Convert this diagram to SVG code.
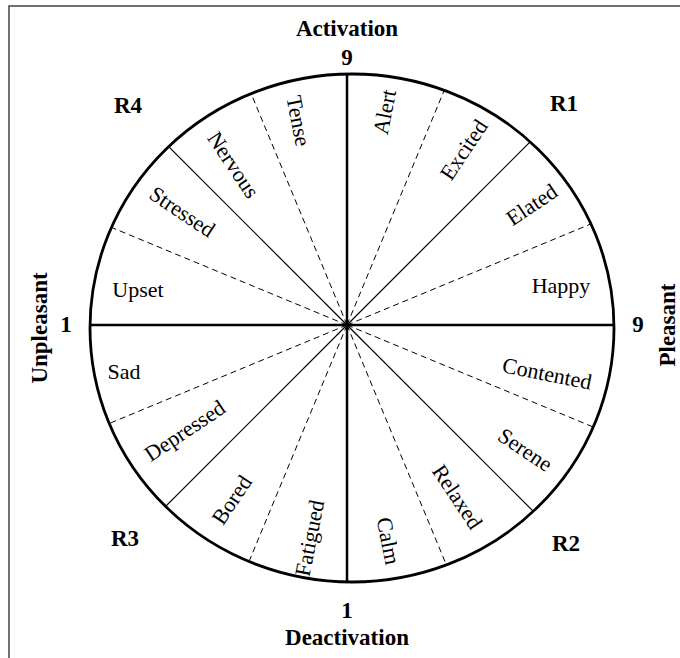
<svg xmlns="http://www.w3.org/2000/svg" width="680" height="658" viewBox="0 0 680 658">
<style>
.lbl{font-family:"Liberation Serif","Times New Roman",serif;font-size:22px;fill:#000;text-anchor:middle}
.bold{font-family:"Liberation Serif","Times New Roman",serif;font-size:23px;font-weight:bold;fill:#000;text-anchor:middle}
.axis{stroke:#000;stroke-width:2.5;fill:none}
.solid{stroke:#000;stroke-width:1.2;fill:none}
.dash{stroke:#000;stroke-width:1;stroke-dasharray:6 4;fill:none}
</style>
<defs>
<clipPath id="clip"><ellipse cx="352" cy="328" rx="262" ry="254"/></clipPath>
</defs>
<rect x="0" y="0" width="680" height="658" fill="#fff"/>
<rect id="frame" x="9" y="6" width="700" height="700" fill="none" stroke="#444" stroke-width="1.5"/>
<g id="connectors" clip-path="url(#clip)">
<line class="dash" x1="347" y1="325" x2="716.6" y2="171.9"/>
<line class="dash" x1="347" y1="325" x2="500.1" y2="-44.6"/>
<line class="dash" x1="347" y1="325" x2="193.9" y2="-44.6"/>
<line class="dash" x1="347" y1="325" x2="-22.6" y2="171.9"/>
<line class="dash" x1="347" y1="325" x2="-22.6" y2="478.1"/>
<line class="dash" x1="347" y1="325" x2="193.9" y2="694.6"/>
<line class="dash" x1="347" y1="325" x2="500.1" y2="694.6"/>
<line class="dash" x1="347" y1="325" x2="716.6" y2="478.1"/>
<line class="solid" x1="347" y1="325" x2="629.8" y2="42.2"/>
<line class="solid" x1="347" y1="325" x2="64.2" y2="42.2"/>
<line class="solid" x1="347" y1="325" x2="64.2" y2="607.8"/>
<line class="solid" x1="347" y1="325" x2="629.8" y2="607.8"/>
<line class="axis" x1="60" y1="325" x2="640" y2="325"/>
<line class="axis" x1="347" y1="40" x2="347" y2="610"/>
</g>
<g id="circle"><ellipse cx="352" cy="328" rx="262" ry="254" fill="none" stroke="#000" stroke-width="2.8"/></g>
<g id="axis-labels">
<text class="bold" x="347" y="36">Activation</text>
<text class="bold" x="347" y="65">9</text>
<text class="bold" x="347" y="618">1</text>
<text class="bold" x="347" y="645">Deactivation</text>
<text class="bold" x="66" y="332">1</text>
<text class="bold" x="638" y="332">9</text>
<text class="bold" transform="translate(47,328) rotate(-90)">Unpleasant</text>
<text class="bold" transform="translate(675,325) rotate(-90)">Pleasant</text>
</g>
<g id="regions">
<text class="bold" x="128" y="113">R4</text>
<text class="bold" x="564" y="111">R1</text>
<text class="bold" x="125" y="546">R3</text>
<text class="bold" x="566" y="551">R2</text>
</g>
<g id="n-alert"><text class="lbl" transform="translate(385,112) rotate(-78.75)" y="7">Alert</text></g>
<g id="n-excited"><text class="lbl" transform="translate(464,150) rotate(-56.25)" y="7">Excited</text></g>
<g id="n-elated"><text class="lbl" transform="translate(532,205) rotate(-33.75)" y="7">Elated</text></g>
<g id="n-happy"><text class="lbl" x="561" y="293">Happy</text></g>
<g id="n-contented"><text class="lbl" transform="translate(547,374) rotate(11.25)" y="7">Contented</text></g>
<g id="n-serene"><text class="lbl" transform="translate(525,450) rotate(33.75)" y="7">Serene</text></g>
<g id="n-relaxed"><text class="lbl" transform="translate(457,497) rotate(56.25)" y="7">Relaxed</text></g>
<g id="n-calm"><text class="lbl" transform="translate(388,541) rotate(78.75)" y="7">Calm</text></g>
<g id="n-fatigued"><text class="lbl" transform="translate(310,538) rotate(-78.75)" y="7">Fatigued</text></g>
<g id="n-bored"><text class="lbl" transform="translate(232,500) rotate(-56.25)" y="7">Bored</text></g>
<g id="n-depressed"><text class="lbl" transform="translate(185,431) rotate(-33.75)" y="7">Depressed</text></g>
<g id="n-sad"><text class="lbl" x="124" y="379">Sad</text></g>
<g id="n-upset"><text class="lbl" x="138" y="297">Upset</text></g>
<g id="n-stressed"><text class="lbl" transform="translate(182,212) rotate(33.75)" y="7">Stressed</text></g>
<g id="n-nervous"><text class="lbl" transform="translate(233,165) rotate(56.25)" y="7">Nervous</text></g>
<g id="n-tense"><text class="lbl" transform="translate(298,121) rotate(78.75)" y="7">Tense</text></g>
</svg>
